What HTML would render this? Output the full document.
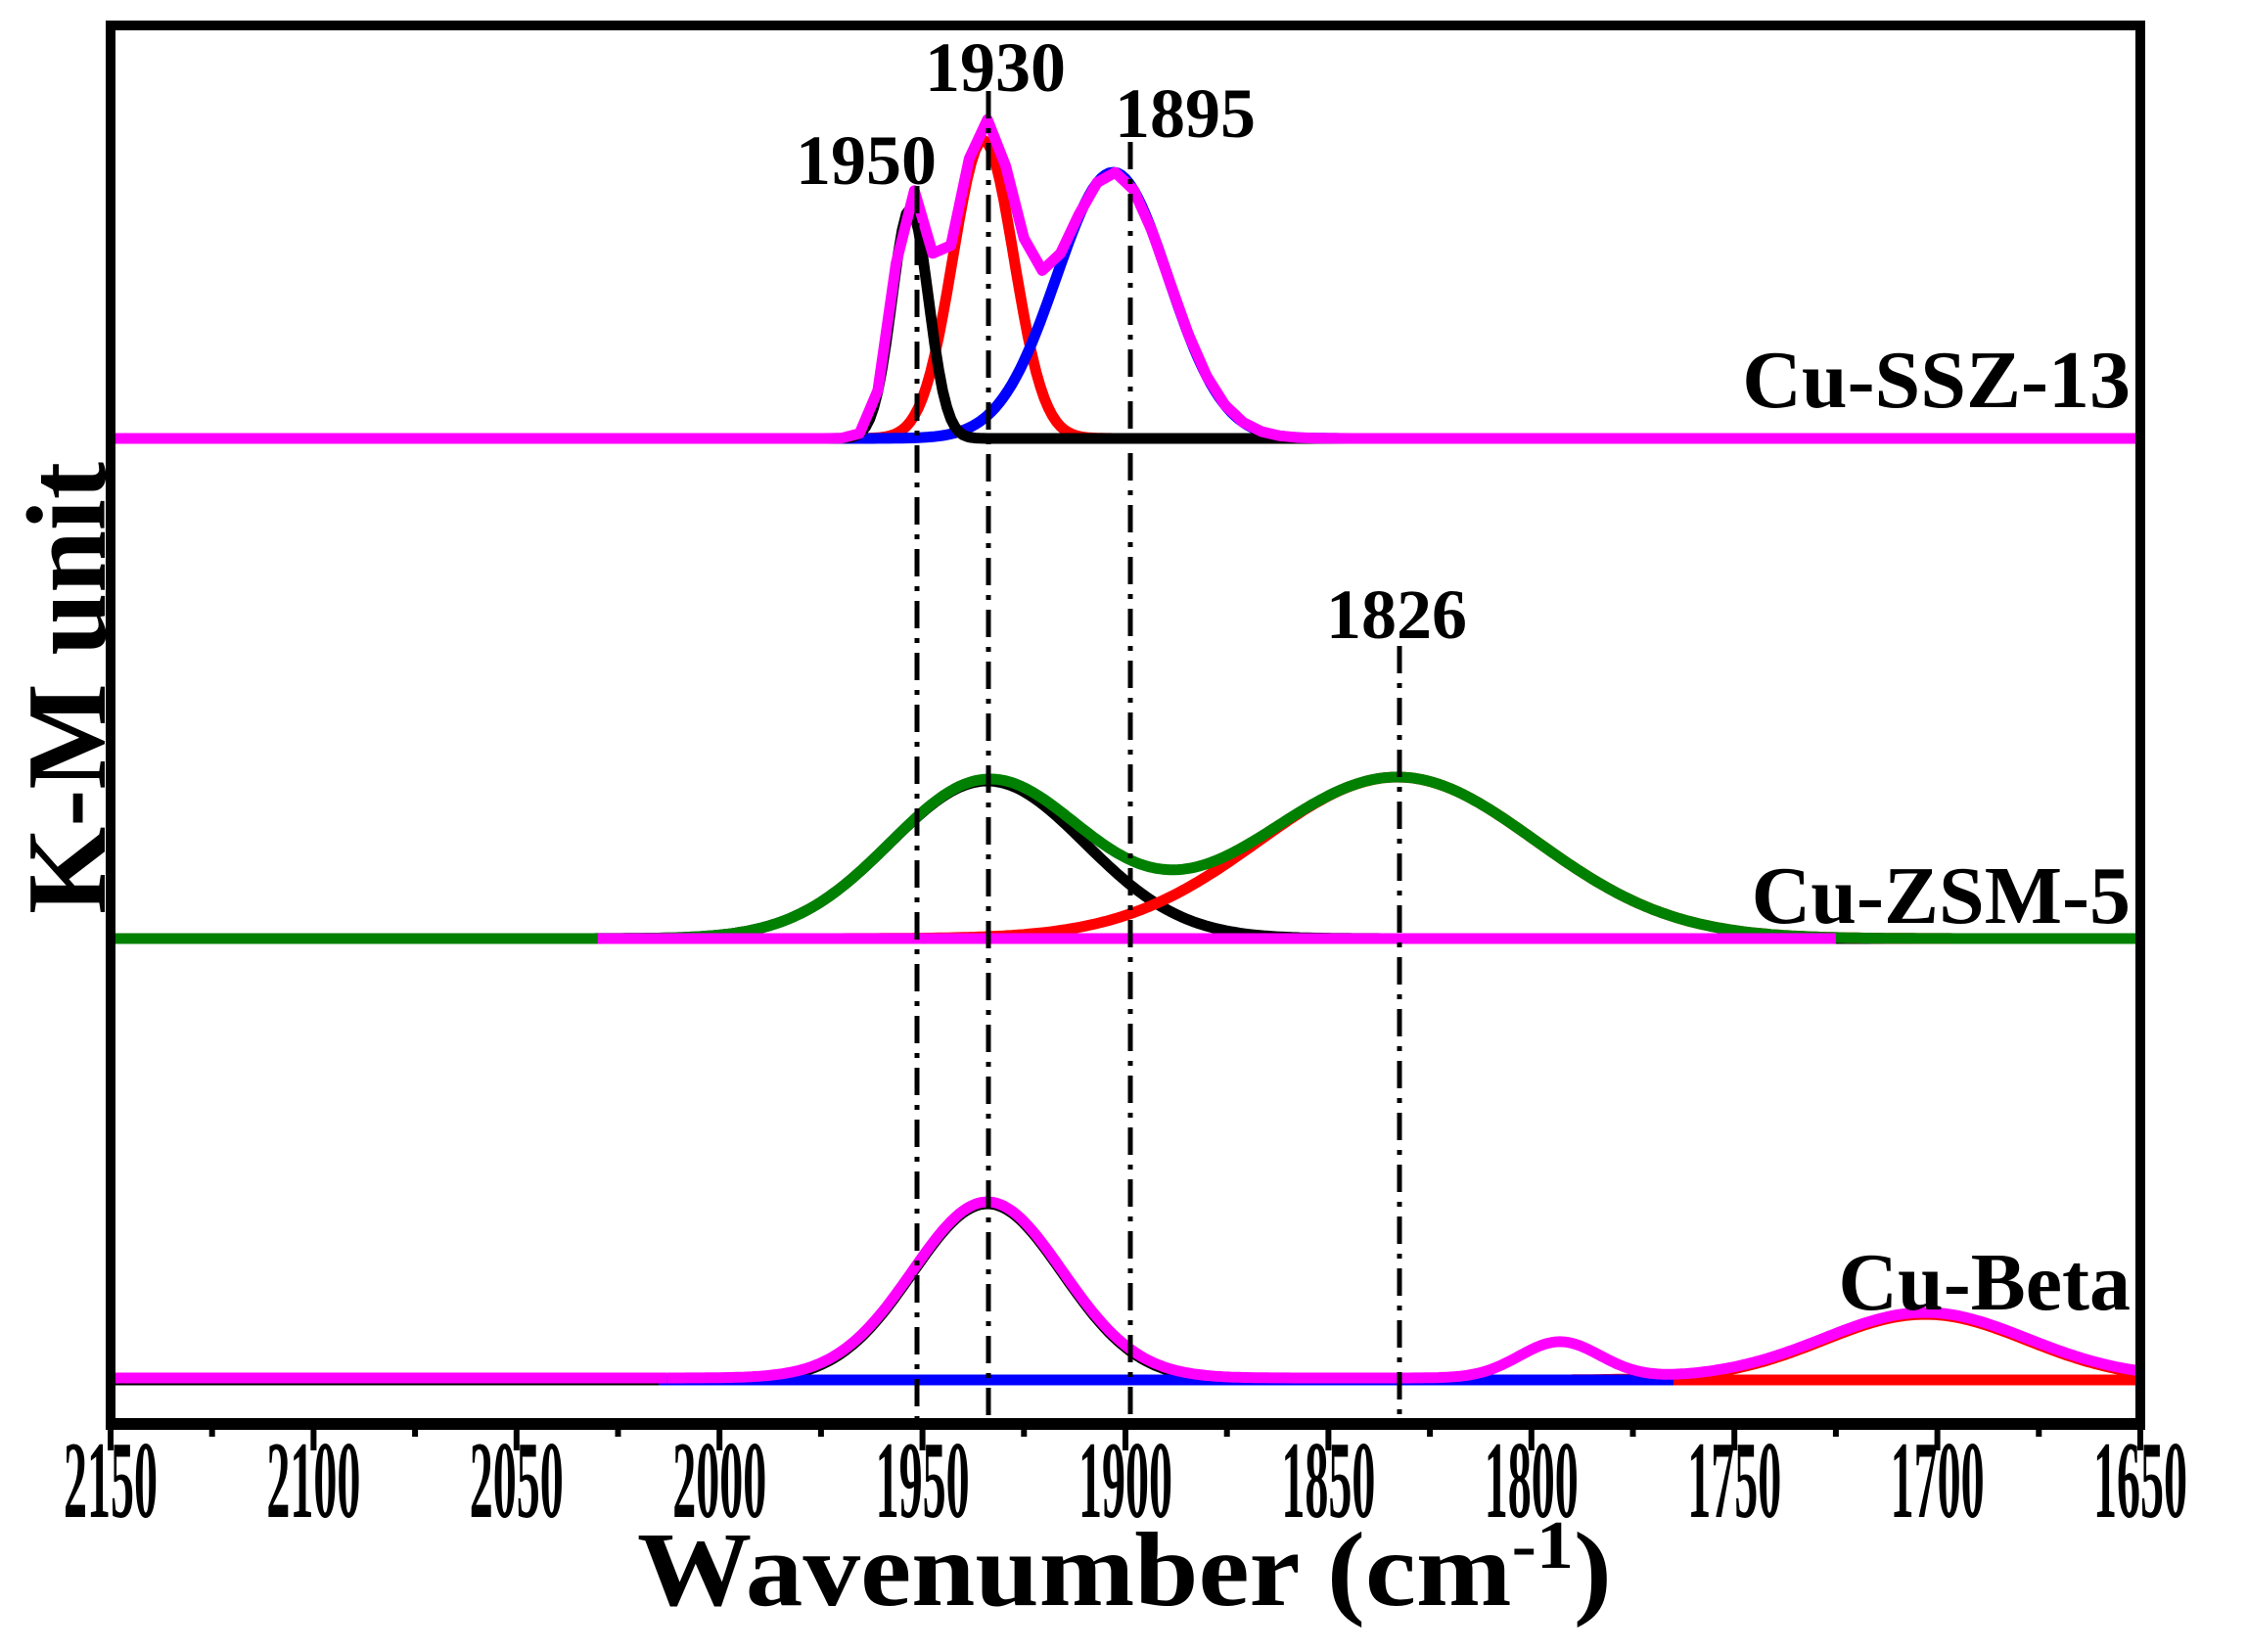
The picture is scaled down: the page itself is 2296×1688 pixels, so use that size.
<!DOCTYPE html>
<html><head><meta charset="utf-8"><style>
html,body{margin:0;padding:0;background:#fff;}
svg{display:block;}
text{font-family:"Liberation Serif",serif;font-weight:bold;fill:#000;}
</style></head><body>
<svg id="s" width="2296" height="1688" viewBox="0 0 2296 1688" xmlns="http://www.w3.org/2000/svg">
<g id="curves" fill="none" stroke-width="11" stroke-linejoin="round"></g>
<g stroke="#000" stroke-width="5" stroke-dasharray="28,10,5,10" fill="none">
<line x1="937" y1="190" x2="937" y2="1450"/>
<line x1="1010" y1="93" x2="1010" y2="1450"/>
<line x1="1155" y1="145" x2="1155" y2="1450"/>
<line x1="1430" y1="660" x2="1430" y2="1450"/>
</g>
<g stroke="#000" fill="none">
<rect x="113" y="26" width="2074" height="1429" stroke-width="10"/>
<line x1="108" y1="1455" x2="2192" y2="1455" stroke-width="12"/>
</g>
<g id="ticks" stroke="#000" stroke-width="6"></g>
<g font-size="72">
<text x="885" y="188" text-anchor="middle">1950</text>
<text x="1017" y="93" text-anchor="middle">1930</text>
<text x="1211" y="140" text-anchor="middle">1895</text>
<text x="1427" y="652" text-anchor="middle">1826</text>
</g>
<g font-size="84" text-anchor="end">
<text x="2177" y="416">Cu-SSZ-13</text>
<text x="2177" y="943">Cu-ZSM-5</text>
<text x="2177" y="1338">Cu-Beta</text>
</g>
<g id="tl" font-size="112"></g>
<text x="651" y="1640" font-size="108" textLength="996" lengthAdjust="spacingAndGlyphs">Wavenumber (cm<tspan font-size="70" dy="-38">-1</tspan><tspan dy="38">)</tspan></text>
<text transform="translate(107,934) rotate(-90)" font-size="115" textLength="462" lengthAdjust="spacingAndGlyphs">K-M unit</text>
</svg>
<script>
var NS="http://www.w3.org/2000/svg";
function X(w){return 113+(2150-w)*4.148;}
function g(w,c,s,h,s2){var sg=s; if(s2){sg=(w>c)?s2:s;} return h*Math.exp(-0.5*Math.pow((w-c)/sg,2));}
function path(fn,base,step,w0,w1){var d="";w0=w0||2150;w1=w1||1650;for(var w=w0;w>=w1-0.001;w-=step){var y=base-fn(w);d+=(d?"L":"M")+X(w).toFixed(1)+" "+y.toFixed(1);}return d;}
var G=document.getElementById("curves");
function add(d,c){var p=document.createElementNS(NS,"path");p.setAttribute("d",d);p.setAttribute("stroke",c);G.appendChild(p);}
// SSZ
var b1=448;
var k1=function(w){return g(w,1953,4.5,235);};
var r1=function(w){return g(w,1935,7.5,305);};
var u1=function(w){return g(w,1903,13.5,272,14);};
add(path(r1,b1,1),"#ff0000");
add(path(u1,b1,1),"#0000ff");
add(path(k1,b1,1),"#000000");
add(path(function(w){return k1(w)+r1(w)+u1(w);},b1,4.5),"#ff00ff");
// ZSM
var b2=959;
var k2=function(w){return g(w,1934,24,161);};
var r2=function(w){return g(w,1833,34,165);};
add(path(k2,b2,1),"#000000");
add(path(r2,b2,1),"#ff0000");
add(path(function(w){return k2(w)+r2(w);},b2,1),"#008000");
add("M"+X(2030)+" "+b2+"L"+X(1725)+" "+b2,"#ff00ff");
// Beta
var b3=1410;
var p1=function(w){return g(w,1934,18.5,180);};
var p2=function(w){return g(w,1793,10,37);};
var p3=function(w){return g(w,1703,25,67);};
add(path(p1,b3,1),"#000000");
add("M"+X(1765)+" "+b3+"L"+X(1650)+" "+b3,"#ff0000");
add(path(p3,b3,1,1790,1650),"#ff0000");
add("M"+X(2015)+" "+b3+"L"+X(1765)+" "+b3,"#0000ff");
add("M"+X(2150)+" "+(b3-2)+"L"+X(2013)+" "+(b3-2),"#ff00ff");
add(path(function(w){return p1(w)+p2(w)+p3(w);},b3-2,1,2013,1650),"#ff00ff");
var T=document.getElementById("ticks"),L=document.getElementById("tl");
for(var w=2150;w>=1650;w-=25){var x=X(w);var ln=document.createElementNS(NS,"line");ln.setAttribute("x1",x);ln.setAttribute("x2",x);ln.setAttribute("y1",1455);ln.setAttribute("y2",(w%50==0)?1482:1468);T.appendChild(ln);
if(w%50==0){var t=document.createElementNS(NS,"text");t.setAttribute("x",x-48);t.setAttribute("y",1550);t.setAttribute("textLength","96");t.setAttribute("lengthAdjust","spacingAndGlyphs");t.textContent=w;L.appendChild(t);}}
</script>
</body></html>
